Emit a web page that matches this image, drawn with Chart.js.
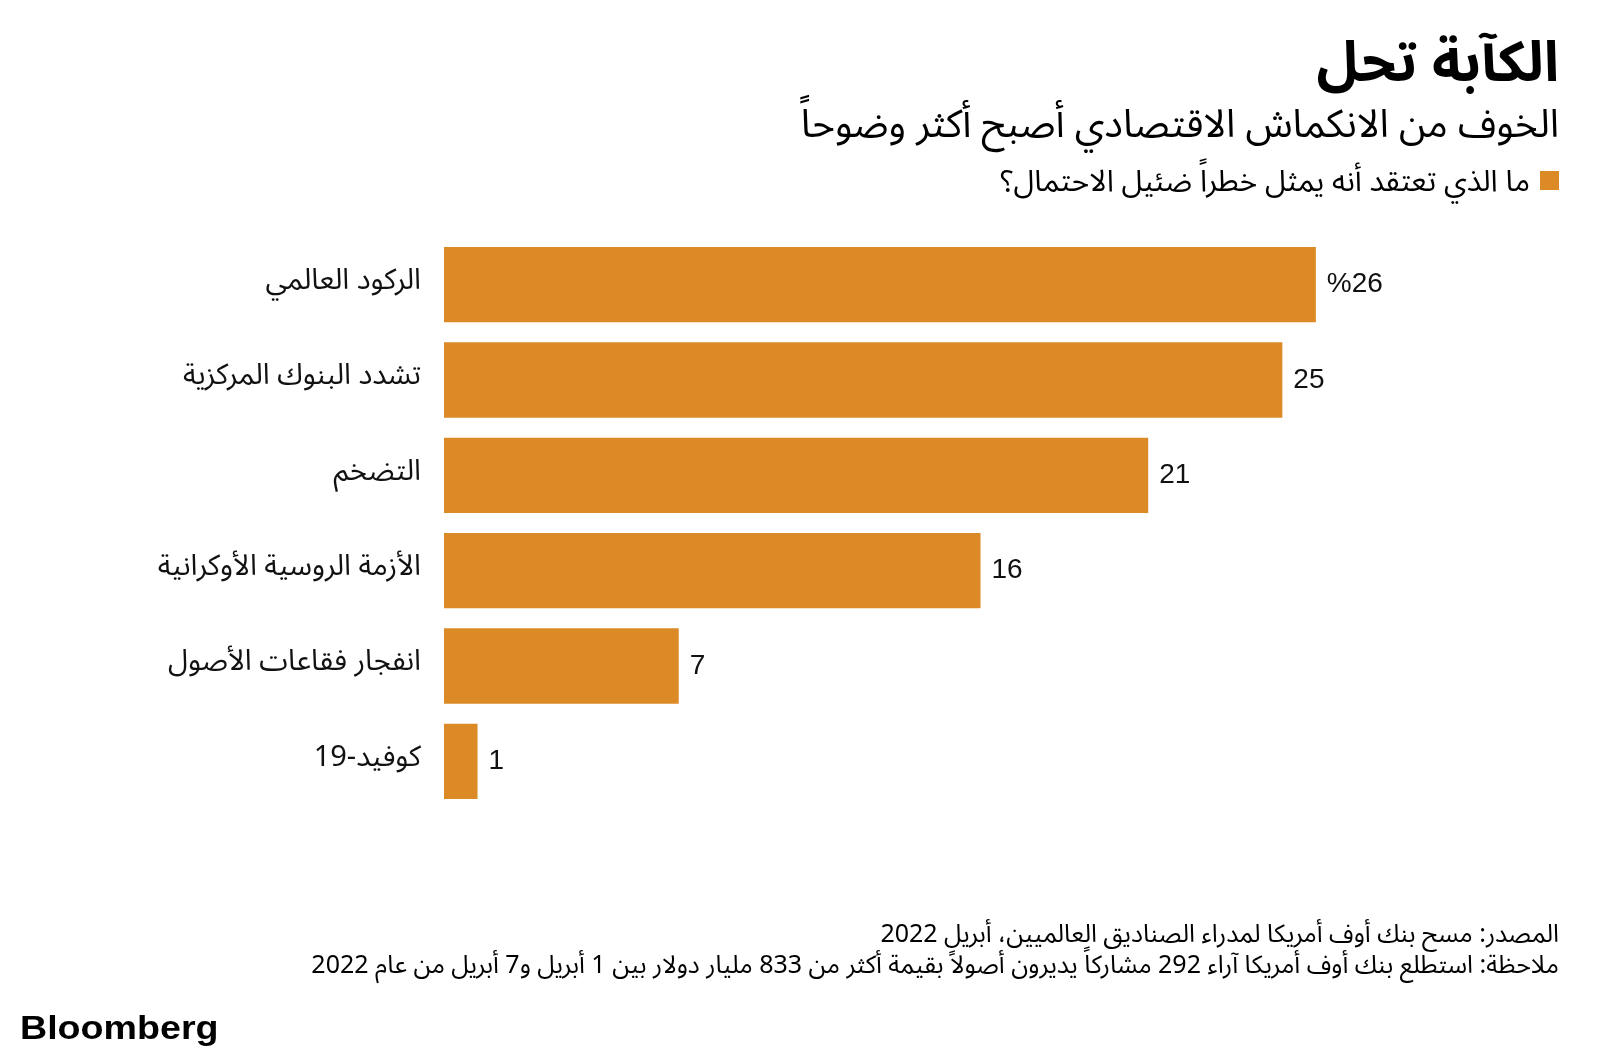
<!DOCTYPE html>
<html lang="ar">
<head>
<meta charset="utf-8">
<script src="https://cdn.jsdelivr.net/npm/chart.js@4"></script>
<style>
  html, body { margin: 0; padding: 0; background: #fff; }
  body { width: 1600px; height: 1054px; position: relative; overflow: hidden;
         font-family: "Noto Sans Arabic", "DejaVu Sans", sans-serif; color: #000; }
  #wrap { position: absolute; left: 0; top: 0; width: 1600px; height: 1054px; }
  .rtl { position: absolute; right: 41px; direction: rtl; text-align: right; white-space: nowrap; }
  #title { top: 4px; font-size: 56px; font-weight: bold; }
  #subtitle { top: 83px; font-size: 39px; }
  #legend { top: 150px; font-size: 30px; }
  #legend span { display: inline-block; width: 19px; height: 19px; background: #dc8a25;
                 margin-left: 10px; vertical-align: middle; position: relative; top: -2px; }
  #src { top: 919px; font-size: 25px; line-height: 31px; }
  #logo { position: absolute; left: 20px; top: 1009px; font-family: "Liberation Sans", Arial, sans-serif;
          font-weight: bold; font-size: 33px; transform: scaleX(1.14); transform-origin: left center; }
</style>
</head>
<body>
<div id="wrap"><canvas id="barChart" dir="rtl"></canvas></div>
<div class="rtl" id="title">الكآبة تحل</div>
<div class="rtl" id="subtitle">الخوف من الانكماش الاقتصادي أصبح أكثر وضوحاً</div>
<div class="rtl" id="legend"><span></span>ما الذي تعتقد أنه يمثل خطراً ضئيل الاحتمال؟</div>
<div class="rtl" id="src">المصدر: مسح بنك أوف أمريكا لمدراء الصناديق العالميين، أبريل 2022<br>ملاحظة: استطلع بنك أوف أمريكا آراء 292 مشاركاً يديرون أصولاً بقيمة أكثر من 833 مليار دولار بين 1 أبريل و7 أبريل من عام 2022</div>
<div id="logo">Bloomberg</div>
<script>
// الكآبة تحل - مخاطر ضئيلة الاحتمال

const categories = ['الركود العالمي', 'تشدد البنوك المركزية', 'التضخم', 'الأزمة الروسية الأوكرانية', 'انفجار فقاعات الأصول', 'كوفيد-19'];
const values = [26, 25, 21, 16, 7, 1];
const valueLabels = ['%26', '25', '21', '16', '7', '1'];

// etiquetas de valor al final de cada barra
const valueLabelPlugin = {
  id: 'valueLabels',
  afterDatasetsDraw(chart) {
    const ctx = chart.ctx;
    const meta = chart.getDatasetMeta(0);
    ctx.save();
    ctx.direction = 'ltr';
    ctx.font = '28px "Liberation Sans", Arial, sans-serif';
    ctx.fillStyle = '#111';
    ctx.textAlign = 'left';
    ctx.textBaseline = 'middle';
    meta.data.forEach((bar, i) => {
      ctx.fillText(valueLabels[i], bar.x + 11, bar.y);
    });
    ctx.restore();
  }
};

const ctx1 = document.getElementById('barChart').getContext('2d');
new Chart(ctx1, {
  type: 'bar',
  data: {
    labels: categories,
    datasets: [{
      label: 'ما الذي تعتقد أنه يمثل خطراً ضئيل الاحتمال؟',
      data: values,
      backgroundColor: '#dc8a25',
      categoryPercentage: 1,
      barPercentage: 0.79
    }]
  },
  options: {
    indexAxis: 'y',
    responsive: true,
    maintainAspectRatio: false,
    animation: false,
    layout: { padding: { top: 237, bottom: 245, left: 0, right: 150 } },
    scales: {
      x: { display: false, min: 0, max: 30 },
      y: {
        grid: { display: false },
        border: { display: false },
        ticks: {
          padding: 15,
          color: '#111',
          font: { size: 29, family: '"Noto Sans Arabic", "DejaVu Sans", sans-serif' }
        },
        afterFit(scale) { scale.width = 444; }
      }
    },
    plugins: {
      legend: { display: false },
      tooltip: { enabled: false }
    }
  },
  plugins: [valueLabelPlugin]
});
</script>
</body>
</html>
